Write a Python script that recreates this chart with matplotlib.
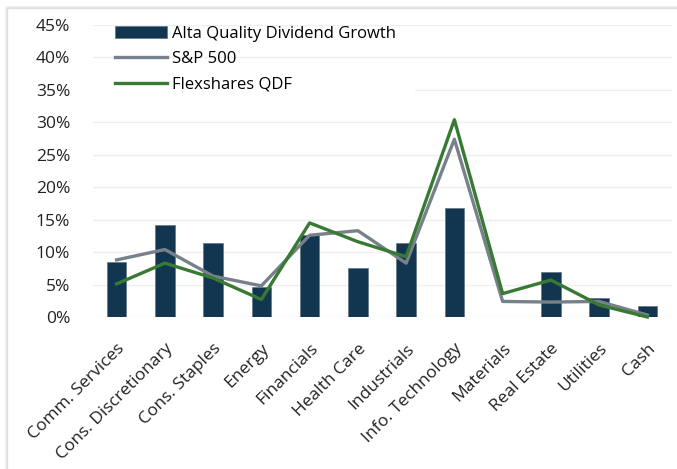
import numpy as np
import matplotlib.pyplot as plt
from matplotlib.patches import Rectangle

plt.rcParams['font.family'] = ['Open Sans', 'DejaVu Sans']

# Data (in %)
sectors = ['Comm. Services', 'Cons. Discretionary', 'Cons. Staples', 'Energy',
           'Financials', 'Health Care', 'Industrials', 'Info. Technology',
           'Materials', 'Real Estate', 'Utilities', 'Cash']
alta = [8.5, 14.2, 11.35, 4.7, 12.6, 7.5, 11.35, 16.75, 0.0, 7.0, 3.0, 1.7]
sp500 = [8.8, 10.4, 6.3, 4.8, 12.6, 13.3, 8.3, 27.4, 2.4, 2.3, 2.4, 0.3]
qdf = [5.1, 8.3, 6.0, 2.7, 14.5, 11.6, 9.3, 30.4, 3.6, 5.7, 1.85, 0.0]
yticks = [0, 5, 10, 15, 20, 25, 30, 35, 40, 45]

bar_col = '#12364f'
gray_col = '#76818b'
green_col = '#387a33'

fig = plt.figure(figsize=(6.77, 4.69), dpi=100)

# card shadow on left/top
for i, a in enumerate([0.04, 0.07, 0.11]):
    x0 = (5 + i) / 677
    y1 = 1 - (6 + i) / 469
    fig.patches.append(Rectangle((x0, -0.1), 1.2, y1 + 0.1, transform=fig.transFigure,
                                 fill=False, edgecolor='black', alpha=a, lw=1.0, zorder=0))

ax = fig.add_axes([92.5 / 677, 1 - 317 / 469, 579 / 677, 292 / 469])
x = np.arange(len(sectors))

bars = ax.bar(x, alta, width=0.40, color=bar_col, edgecolor='#5f7486', linewidth=0.5,
              label='Alta Quality Dividend Growth', zorder=2)
l1, = ax.plot(x, sp500, color=gray_col, lw=2.4, label='S&P 500', zorder=3, clip_on=False)
l2, = ax.plot(x, qdf, color=green_col, lw=2.4, label='Flexshares QDF', zorder=4, clip_on=False)

ax.set_xlim(-0.5, len(sectors) - 0.5)
ax.set_ylim(0, 45)
ax.set_yticks(yticks)
ax.set_yticklabels([f'{v}%' for v in yticks])
ax.set_xticks(x)
ax.set_xticklabels(sectors, rotation=45, ha='right', rotation_mode='anchor')
ax.tick_params(axis='both', length=0, labelsize=12.5, colors='#222222')
ax.tick_params(axis='x', pad=17)
ax.tick_params(axis='y', pad=16)
ax.grid(axis='y', color='#efefef', lw=1.0, zorder=0)
ax.set_axisbelow(True)
for s in ax.spines.values():
    s.set_visible(False)

# white box behind the legend hides the top gridlines
ax.add_patch(Rectangle((0, (317 - 98) / 292), (415 - 92.5) / 579, 0.1,
                       transform=ax.transAxes, facecolor='white', edgecolor='none',
                       zorder=1, clip_on=False))

leg = ax.legend([bars, l1, l2], ['Alta Quality Dividend Growth', 'S&P 500', 'Flexshares QDF'],
                loc='upper left', bbox_to_anchor=(0.03, 1.015), frameon=False,
                fontsize=12, handlelength=3.1, handleheight=0.75, labelspacing=0.58,
                borderpad=0.3, borderaxespad=0.0, handletextpad=0.35)
leg.set_zorder(5)

fig.savefig('out.png', dpi=100)
